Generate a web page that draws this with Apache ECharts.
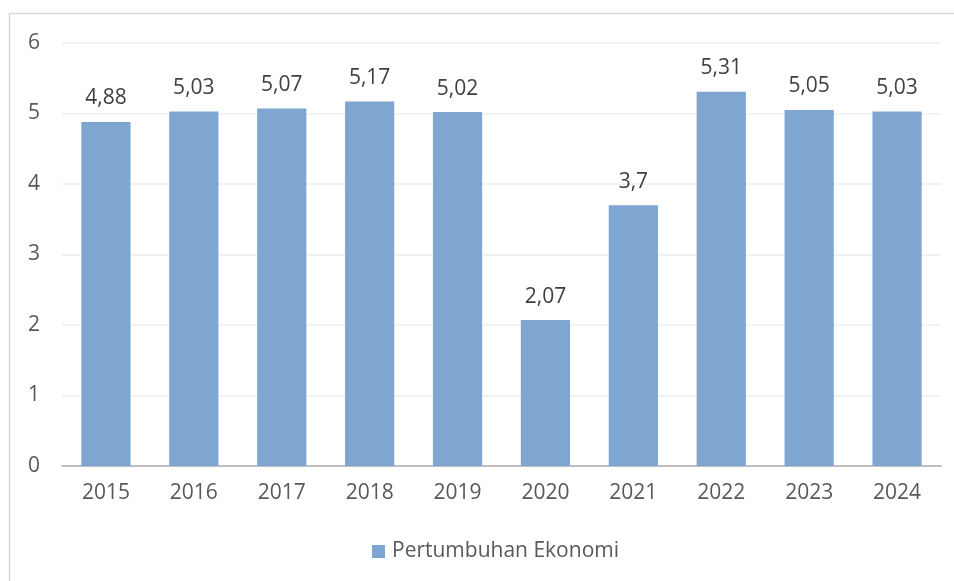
<!DOCTYPE html>
<html>
<head>
<meta charset="utf-8">
<script src="https://cdn.jsdelivr.net/npm/echarts@6/dist/echarts.min.js"></script>
<style>
html,body{margin:0;padding:0;background:#fff;}
#chart{width:954px;height:581px;}
</style>
</head>
<body>
<div id="chart"></div>
<script>
var years = ['2015','2016','2017','2018','2019','2020','2021','2022','2023','2024'];
var growth = [4.88, 5.03, 5.07, 5.17, 5.02, 2.07, 3.7, 5.31, 5.05, 5.03];
var seriesName = 'Pertumbuhan Ekonomi';

var chart = echarts.init(document.getElementById('chart'));
var font = '"Open Sans", "Noto Sans", sans-serif';
var option = {
	animation: false,
	textStyle: {fontFamily: font},
	graphic: [{
		type: 'rect',
		shape: {x: 9.5, y: 13.5, width: 1000, height: 1000},
		style: {fill: 'none', stroke: '#d9d9d9', lineWidth: 1.5},
		silent: true
	}],
	grid: {left: 62, right: 13, top: 43, bottom: 115},
	legend: {
		bottom: 14,
		left: 367,
		data: [seriesName],
		icon: 'rect',
		itemWidth: 13,
		itemHeight: 13,
		itemGap: 6,
		textStyle: {color: '#595959', fontSize: 21, fontFamily: font, padding: [0, 0, 0, 2]}
	},
	xAxis: {
		type: 'category',
		data: years,
		axisLine: {lineStyle: {color: '#bfbfbf', width: 2}},
		axisTick: {show: false},
		axisLabel: {color: '#595959', fontSize: 21, margin: 17, fontFamily: font}
	},
	yAxis: {
		type: 'value',
		min: 0,
		max: 6,
		interval: 1,
		axisLine: {show: false},
		axisTick: {show: false},
		axisLabel: {color: '#595959', fontSize: 21, margin: 22, fontFamily: font},
		splitLine: {lineStyle: {color: '#eeeeee', width: 1.5}}
	},
	series: [{
		name: seriesName,
		type: 'bar',
		data: growth,
		barWidth: '56%',
		itemStyle: {color: '#7fa6d1'},
		label: {
			show: true,
			position: 'top',
			distance: 13,
			color: '#404040',
			fontSize: 21,
			fontFamily: font,
			formatter: function (p) { return String(p.value).replace('.', ','); }
		}
	}]
};
chart.setOption(option);
</script>
</body>
</html>
